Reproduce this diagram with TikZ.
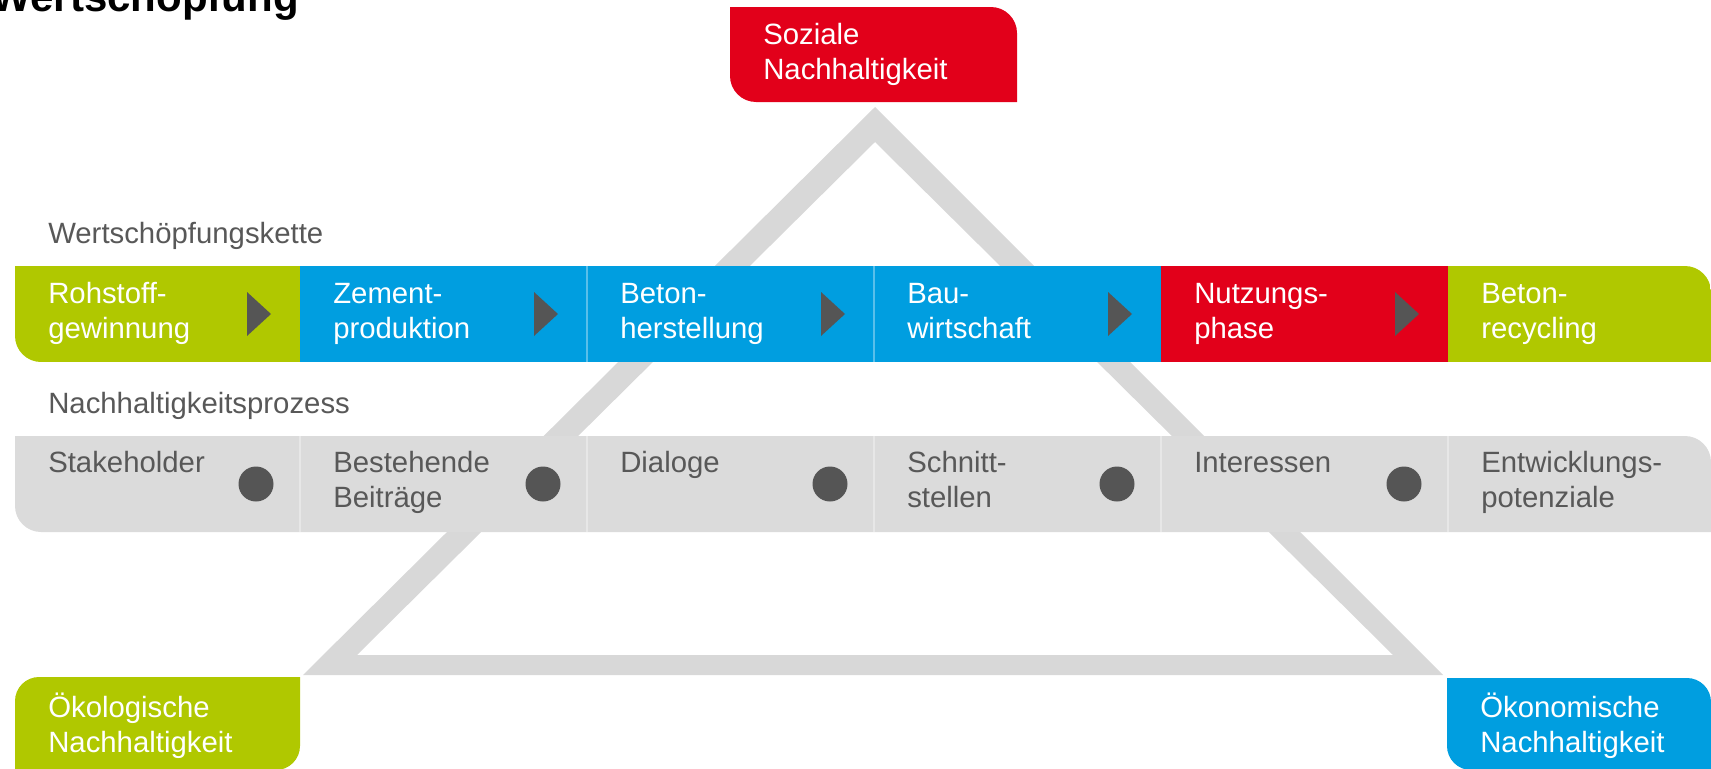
\documentclass[tikz,border=0pt]{standalone}
\usepackage{fontspec}
\setmainfont{Liberation Sans}
\usepackage{tikz}

\definecolor{chaingreen}{RGB}{176,200,0}
\definecolor{chainblue}{RGB}{0,158,224}
\definecolor{chainred}{RGB}{226,0,26}
\definecolor{bandgray}{RGB}{219,219,219}
\definecolor{trigray}{RGB}{216,216,216}
\definecolor{pointgray}{RGB}{85,85,85}
\definecolor{labelgray}{RGB}{88,88,88}

% box with round top right and bottom left corner: x1, y1 (top), x2, y2 (bottom), radius
\newcommand{\leafpath}[5]{(#1,#2) -- ({#3-#5},#2) .. controls ({#3-0.45*#5},#2) and (#3,{#2+0.45*#5}) .. (#3,{#2+#5}) -- (#3,#4) -- ({#1+#5},#4) .. controls ({#1+0.45*#5},#4) and (#1,{#4-0.45*#5}) .. (#1,{#4-#5}) -- cycle}
% box with round top left and bottom right corner
\newcommand{\leafpathflip}[5]{(#1,{#2+#5}) .. controls (#1,{#2+0.45*#5}) and ({#1+0.45*#5},#2) .. ({#1+#5},#2) -- (#3,#2) -- (#3,{#4-#5}) .. controls (#3,{#4-0.45*#5}) and ({#3-0.45*#5},#4) .. ({#3-#5},#4) -- (#1,#4) -- cycle}

\tikzset{
  whitetext/.style={anchor=north west, inner sep=0pt, align=left, font=\fontsize{22}{26.25}\selectfont, text=white},
  graytext/.style={whitetext, text=labelgray},
  sepline/.style={draw=white, draw opacity=0.35, line width=1.2pt},
}

\begin{document}
\begin{tikzpicture}[x=0.75pt,y=0.75pt,yscale=-1,xscale=1]
\useasboundingbox (0,0) rectangle (1711,768);

% Text Node
\node (title) [anchor=base east, inner sep=0pt, font=\fontsize{31.5}{36}\selectfont\bfseries] at (299,11) {Wertschöpfung};

%Shape: Triangle
\fill [trigray, even odd rule] (875,107) -- (303,675) -- (1443,675) -- cycle (875,142) -- (357,655) -- (1393,655) -- cycle;

%Shape: Soziale box
\fill [chainred] \leafpath{730}{7}{1017}{102}{26};
% Text Node
\node (soziale) [whitetext] at (763,19.5) {\strut Soziale\\Nachhaltigkeit};

% Text Node
\node (kette) [graytext] at (48,218.5) {\strut Wertschöpfungskette};
% Text Node
\node (prozess) [graytext] at (48,388.5) {\strut Nachhaltigkeitsprozess};

%Shape: Wertschoepfungskette band
\begin{scope}
\clip \leafpath{15}{266}{1711}{362}{26};
\fill [chaingreen] (15,266) rectangle (300,362);
\fill [chainblue] (300,266) rectangle (1161,362);
\fill [chainred] (1161,266) rectangle (1448,362);
\fill [chaingreen] (1448,266) rectangle (1711,362);
\draw [sepline] (587,266) -- (587,362);
\draw [sepline] (874,266) -- (874,362);
\end{scope}

%Shape: arrow heads
\fill [pointgray] (247,292) -- (271,314) -- (247,336) -- cycle;
\fill [pointgray] (534,292) -- (558,314) -- (534,336) -- cycle;
\fill [pointgray] (821,292) -- (845,314) -- (821,336) -- cycle;
\fill [pointgray] (1108,292) -- (1132,314) -- (1108,336) -- cycle;
\fill [pointgray] (1395,292) -- (1419,314) -- (1395,336) -- cycle;

% Text Node
\node (rohstoff) [whitetext] at (48,278.5) {\strut Rohstoff-\\gewinnung};
% Text Node
\node (zement) [whitetext] at (333,278.5) {\strut Zement-\\produktion};
% Text Node
\node (beton) [whitetext] at (620,278.5) {\strut Beton-\\herstellung};
% Text Node
\node (bau) [whitetext] at (907,278.5) {\strut Bau-\\wirtschaft};
% Text Node
\node (nutzung) [whitetext] at (1194,278.5) {\strut Nutzungs-\\phase};
% Text Node
\node (recycling) [whitetext] at (1481,278.5) {\strut Beton-\\recycling};

%Shape: Nachhaltigkeitsprozess band
\fill [bandgray] \leafpath{15}{436}{1711}{532}{26};
\draw [sepline] (300,436) -- (300,532);
\draw [sepline] (587,436) -- (587,532);
\draw [sepline] (874,436) -- (874,532);
\draw [sepline] (1161,436) -- (1161,532);
\draw [sepline] (1448,436) -- (1448,532);

%Shape: dots
\fill [pointgray] (256,484) circle (17.5);
\fill [pointgray] (543,484) circle (17.5);
\fill [pointgray] (830,484) circle (17.5);
\fill [pointgray] (1117,484) circle (17.5);
\fill [pointgray] (1404,484) circle (17.5);

% Text Node
\node (stakeholder) [graytext] at (48,448) {\strut Stakeholder};
% Text Node
\node (beitraege) [graytext] at (333,448) {\strut Bestehende\\Beiträge};
% Text Node
\node (dialoge) [graytext] at (620,448) {\strut Dialoge};
% Text Node
\node (schnitt) [graytext] at (907,448) {\strut Schnitt-\\stellen};
% Text Node
\node (interessen) [graytext] at (1194,448) {\strut Interessen};
% Text Node
\node (potenziale) [graytext] at (1481,448) {\strut Entwicklungs-\\potenziale};

%Shape: Oekologische box
\fill [chaingreen] \leafpathflip{15}{677}{300}{770}{24};
% Text Node
\node (oekologie) [whitetext] at (48,692.5) {\strut Ökologische\\Nachhaltigkeit};

%Shape: Oekonomische box
\fill [chainblue] \leafpath{1447}{678}{1711}{770}{24};
% Text Node
\node (oekonomie) [whitetext] at (1480,692.5) {\strut Ökonomische\\Nachhaltigkeit};

\end{tikzpicture}
\end{document}
